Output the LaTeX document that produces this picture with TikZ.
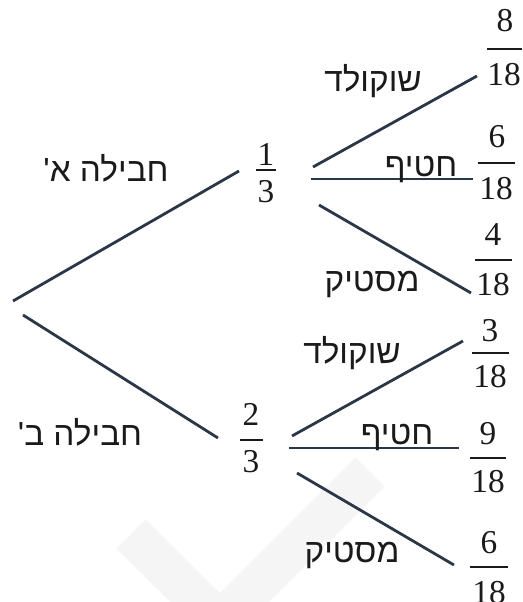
\documentclass[tikz,border=0pt]{standalone}
\usepackage{fontspec}
\TeXXeTstate=1
\newfontfamily\hebfont[Script=Hebrew]{Liberation Sans}
\newfontfamily\digfont{Liberation Serif}
\definecolor{linec}{HTML}{2B3647}
\definecolor{txt}{HTML}{1A1A1A}
\definecolor{wm}{HTML}{F5F5F5}
\tikzset{
  branch/.style={draw=linec, line width=2.1pt},
  digit/.style={font=\digfont\fontsize{25}{30}\selectfont, text=txt, inner sep=0pt, anchor=center},
  heb/.style={font=\hebfont\fontsize{25}{30}\selectfont, text=txt, inner sep=0pt, anchor=base},
  fbar/.style={draw=txt, line width=1.1pt},
}
\begin{document}
\begin{tikzpicture}[x=0.75pt,y=-0.75pt]
\useasboundingbox (0,0) rectangle (522,602);
% faint watermark
\draw[wm, line width=31pt] (131,534) -- (220,622) -- (370,472);

% endpoints of connectors
\coordinate (r1) at (13,301);
\coordinate (a1) at (239,171);
\coordinate (r2) at (23,315);
\coordinate (b1) at (218,438);
\coordinate (as1) at (313,167);  \coordinate (ae1) at (477,76);
\coordinate (as2) at (311,179);  \coordinate (ae2) at (473,179);
\coordinate (as3) at (319,205);  \coordinate (ae3) at (471,293);
\coordinate (bs1) at (292,436);  \coordinate (be1) at (463,341);
\coordinate (bs2) at (289,448);  \coordinate (be2) at (459,448);
\coordinate (bs3) at (297,473);  \coordinate (be3) at (454,565);

\draw[branch] (r1) -- (a1);
\draw[branch] (r2) -- (b1);
\draw[branch] (as1) -- (ae1);
\draw[branch] (as2) -- (ae2);
\draw[branch] (as3) -- (ae3);
\draw[branch] (bs1) -- (be1);
\draw[branch] (bs2) -- (be2);
\draw[branch] (bs3) -- (be3);

% labels
\node[heb] (la) at (106,182) {\hebfont\beginR חבילה א'\endR};
\node[heb] (lb) at (80,445) {\hebfont\beginR חבילה ב'\endR};
\node[heb] (ta1) at (373,92) {\hebfont\beginR שוקולד\endR};
\node[heb] (ta2) at (421,177) {\hebfont\beginR חטיף\endR};
\node[heb] (ta3) at (372,291) {\hebfont\beginR מסטיק\endR};
\node[heb] (tb1) at (352,363) {\hebfont\beginR שוקולד\endR};
\node[heb] (tb2) at (397,444) {\hebfont\beginR חטיף\endR};
\node[heb] (tb3) at (352,562) {\hebfont\beginR מסטיק\endR};

% fractions: 1/3
\node[digit] (fa-n) at (266,154) {1};
\node[digit] (fa-d) at (266,192) {3};
\draw[fbar] (256,170) -- (276,170);
% 2/3
\node[digit] (fb-n) at (251,414) {2};
\node[digit] (fb-d) at (251,462) {3};
\draw[fbar] (240,440) -- (263,440);
% 8/18
\node[digit] (t1-n) at (505,21) {8};
\node[digit] (t1-d) at (504,75) {18};
\draw[fbar] (487,49) -- (522,49);
% 6/18
\node[digit] (t2-n) at (497,137) {6};
\node[digit] (t2-d) at (496,189) {18};
\draw[fbar] (478,163) -- (515,163);
% 4/18
\node[digit] (t3-n) at (493,235) {4};
\node[digit] (t3-d) at (493,285) {18};
\draw[fbar] (475,260) -- (512,260);
% 3/18
\node[digit] (u1-n) at (490,331) {3};
\node[digit] (u1-d) at (490,377) {18};
\draw[fbar] (472,353) -- (509,353);
% 9/18
\node[digit] (u2-n) at (488,434) {9};
\node[digit] (u2-d) at (488,482) {18};
\draw[fbar] (470,458) -- (506,458);
% 6/18
\node[digit] (u3-n) at (489,543) {6};
\node[digit] (u3-d) at (489,593) {18};
\draw[fbar] (470,567) -- (508,567);
\end{tikzpicture}
\end{document}
